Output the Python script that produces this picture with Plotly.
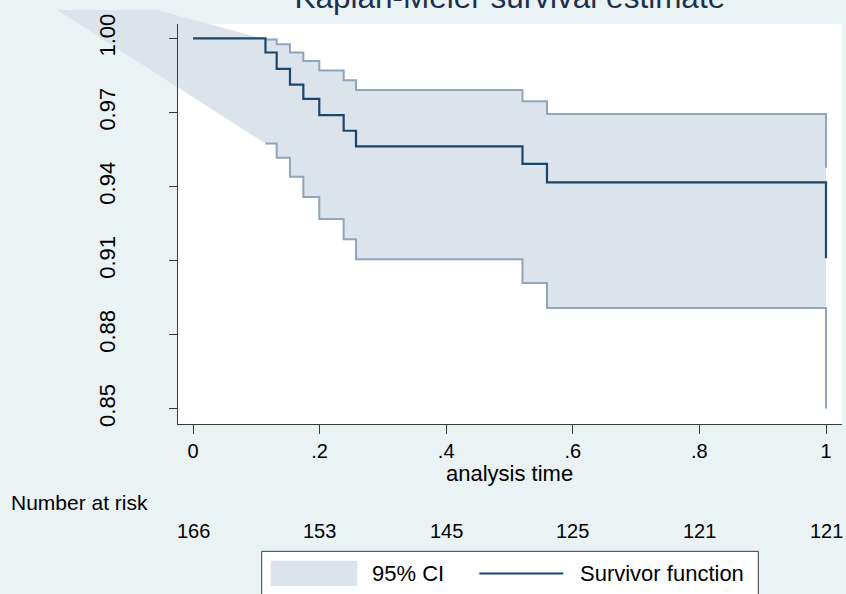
import plotly.graph_objects as go

W, H = 846, 594

# ---- data ----
event_time = [0.1145, 0.1322, 0.1532, 0.1743, 0.1995, 0.2380, 0.2575, 0.5205, 0.5592, 1.0]
survival = [0.9943, 0.9877, 0.9813, 0.9755, 0.9689, 0.9626, 0.9563, 0.9492, 0.9417, 0.9110]
ci_upper = [0.9996, 0.9976, 0.9943, 0.9908, 0.9870, 0.9831, 0.9791, 0.9745, 0.9694, 0.9476]
ci_lower = [0.9574, 0.9517, 0.9440, 0.9358, 0.9269, 0.9187, 0.9106, 0.9009, 0.8908, 0.8501]
band_apex_time = -0.331      # Stata's CI area polygon starts outside the plot region
band_apex_value = 1.0306
risk_times = [0, 0.2, 0.4, 0.6, 0.8, 1]
risk_counts = [166, 153, 145, 125, 121, 121]
y_ticks = [0.85, 0.88, 0.91, 0.94, 0.97, 1.00]
x_ticks = [0, 0.2, 0.4, 0.6, 0.8, 1]
x_ticktext = ["0", ".2", ".4", ".6", ".8", "1"]

# ---- styling / layout ----
BG = "#eaf2f3"
BAND = "#dde3ea"
CI_LINE = "#8ea5bc"
NAVY = "#1a476f"
AXIS = "#3a3a3a"
GRID = "#e4ecef"
FONT = "Liberation Sans, Arial, sans-serif"

plot_left, plot_right, plot_top, plot_bottom = 178, 841.7, 14, 422.7
x_range = [-0.0237, 1.0248]
y_range = [0.84377, 1.00595]
dom_x = [plot_left / W, plot_right / W]
dom_y = [1 - plot_bottom / H, 1 - plot_top / H]


def full_range(r, d):
    span = (r[1] - r[0]) / (d[1] - d[0])
    return [r[0] - d[0] * span, r[1] + (1 - d[1]) * span]


def hv_path(t, v):
    xs, ys = [t[0]], [v[0]]
    for i in range(1, len(t)):
        xs += [t[i], t[i]]
        ys += [v[i - 1], v[i]]
    return xs, ys


ux, uy = hv_path(event_time, ci_upper)
lx, ly = hv_path(event_time, ci_lower)
sx, sy = hv_path([0] + event_time, [1.0] + survival)

poly_x = [band_apex_time] + ux + lx[::-1] + [band_apex_time]
poly_y = [band_apex_value] + uy + ly[::-1] + [band_apex_value]

fig = go.Figure()
fig.add_trace(go.Scatter(x=poly_x, y=poly_y, fill="toself", fillcolor=BAND,
                         mode="lines", line=dict(width=0), name="95% CI",
                         xaxis="x2", yaxis="y2", hoverinfo="skip", showlegend=False))
fig.add_trace(go.Scatter(x=ux, y=uy, mode="lines", line=dict(color=CI_LINE, width=2),
                         xaxis="x2", yaxis="y2", hoverinfo="skip", showlegend=False))
fig.add_trace(go.Scatter(x=lx, y=ly, mode="lines", line=dict(color=CI_LINE, width=2),
                         xaxis="x2", yaxis="y2", hoverinfo="skip", showlegend=False))
fig.add_trace(go.Scatter(x=sx, y=sy, mode="lines", line=dict(color=NAVY, width=2.2),
                         name="Survivor function", xaxis="x2", yaxis="y2",
                         showlegend=False))

hidden = dict(visible=False, showgrid=False, zeroline=False, fixedrange=True)

annotations = []
for t, n in zip(risk_times, risk_counts):
    annotations.append(dict(x=t, y=1 - 531.8 / H, xref="x3", yref="paper", text=str(n),
                            showarrow=False, xanchor="center", yanchor="middle",
                            font=dict(size=20, color="black", family=FONT)))
annotations += [
    dict(x=9 / W, y=1 - 502.5 / H, xref="paper", yref="paper", text="Number at risk",
         showarrow=False, xanchor="left", yanchor="middle",
         font=dict(size=21, color="black", family=FONT)),
    dict(x=0.5, y=1 - 473.5 / H, xref="x3 domain", yref="paper", text="analysis time",
         showarrow=False, xanchor="center", yanchor="middle",
         font=dict(size=22, color="black", family=FONT)),
    dict(x=370 / W, y=1 - 575.4 / H, xref="paper", yref="paper", text="95% CI",
         showarrow=False, xanchor="left", yanchor="middle",
         font=dict(size=22, color="black", family=FONT)),
    dict(x=578 / W, y=1 - 575.4 / H, xref="paper", yref="paper", text="Survivor function",
         showarrow=False, xanchor="left", yanchor="middle",
         font=dict(size=22, color="black", family=FONT)),
]

shapes = [
    # white plot region
    dict(type="rect", xref="paper", yref="paper", x0=dom_x[0], x1=dom_x[1],
         y0=dom_y[0], y1=dom_y[1], fillcolor="white", line=dict(width=0), layer="below"),
    # legend box
    dict(type="rect", xref="paper", yref="paper", x0=261.7 / W, x1=758.3 / W,
         y0=-0.05, y1=1 - 552.5 / H, fillcolor="white", line=dict(color=AXIS, width=1),
         layer="above"),
    dict(type="rect", xref="paper", yref="paper", x0=270.7 / W, x1=357.3 / W,
         y0=1 - 588 / H, y1=1 - 562 / H, fillcolor=BAND, line=dict(width=0), layer="above"),
    dict(type="line", xref="paper", yref="paper", x0=479.3 / W, x1=563.3 / W,
         y0=1 - 575 / H, y1=1 - 575 / H, line=dict(color=NAVY, width=2), layer="above"),
]

fig.update_layout(
    width=W, height=H,
    margin=dict(l=0, r=0, t=0, b=0, pad=0),
    paper_bgcolor=BG, plot_bgcolor="rgba(0,0,0,0)",
    showlegend=False,
    font=dict(family=FONT, color="black"),
    title=dict(text="Kaplan-Meier survival estimate", x=(dom_x[0] + dom_x[1]) / 2,
               xanchor="center", y=1 - 8.3 / H, yanchor="bottom", yref="container",
               font=dict(size=31.5, color="#1c3150", family=FONT)),
    # subplot 1: gridlines only (bottom layer)
    xaxis=dict(domain=dom_x, range=x_range, anchor="y", showgrid=False, zeroline=False,
               showticklabels=False, ticks="", showline=False, fixedrange=True),
    yaxis=dict(domain=dom_y, range=y_range, anchor="x", tickvals=y_ticks, showgrid=True,
               gridcolor=GRID, gridwidth=1.5, zeroline=False, showticklabels=False,
               ticks="", showline=False, fixedrange=True),
    # subplot 2: full-figure scale for the data (the CI area spills outside the plot region)
    xaxis2=dict(domain=[0, 1], range=full_range(x_range, dom_x), anchor="y2", **hidden),
    yaxis2=dict(domain=[0, 1], range=full_range(y_range, dom_y), anchor="x2", **hidden),
    # subplot 3: visible axes on top
    xaxis3=dict(domain=dom_x, range=x_range, anchor="y3", tickvals=x_ticks,
                ticktext=x_ticktext, ticks="outside", ticklen=9, tickwidth=1.2,
                tickcolor=AXIS, showline=True, linecolor=AXIS, linewidth=1.2,
                showgrid=False, zeroline=False, ticklabelstandoff=0,
                tickfont=dict(size=20, color="black", family=FONT), fixedrange=True),
    yaxis3=dict(domain=dom_y, range=y_range, anchor="x3", tickvals=y_ticks,
                tickformat=".2f", ticks="outside", ticklen=8, tickwidth=1.2,
                tickcolor=AXIS, showline=True, linecolor=AXIS, linewidth=1.2,
                showgrid=False, zeroline=False, tickangle=-90, ticklabelstandoff=45,
                tickfont=dict(size=22, color="black", family=FONT), fixedrange=True),
    shapes=shapes,
    annotations=annotations,
)

page_fix = ("document.body.style.margin='0px';"
            "document.body.style.overflow='hidden';"
            "document.body.style.background='%s';" % BG)
fig.write_html("out.html", config={"displayModeBar": False}, post_script=page_fix)
